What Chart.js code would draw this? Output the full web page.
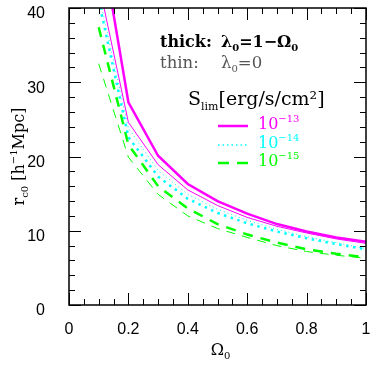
<!DOCTYPE html>
<html>
<head>
<meta charset="utf-8">
<script src="https://cdn.jsdelivr.net/npm/chart.js@4"></script>
<style>
html, body { margin: 0; padding: 0; background: #fff; }
</style>
</head>
<body>
<canvas id="rc0Chart" width="382" height="368"></canvas>
<script>
// Omega_0 grid
const omega0 = [0.1, 0.2, 0.3, 0.4, 0.5, 0.6, 0.7, 0.8, 0.9, 1.0];

// r_c0 [h^-1 Mpc]; thick = lambda0 = 1 - Omega0, thin = lambda0 = 0
const flat13 = [51.0, 27.3, 20.1, 16.3, 14.0, 12.3, 10.9, 9.9, 9.1, 8.5];
const open13 = [43.4, 24.6, 18.9, 15.5, 13.4, 11.8, 10.6, 9.7, 8.9, 8.3];
const flat14 = [41.0, 22.6, 17.3, 14.3, 12.4, 11.0, 9.9, 9.0, 8.2, 7.5];
const open14 = [42.0, 23.8, 18.1, 14.9, 12.9, 11.4, 10.2, 9.2, 8.4, 7.6];
const flat15 = [37.4, 21.6, 16.0, 13.0, 10.9, 9.5, 8.4, 7.5, 6.9, 6.4];
const open15 = [32.5, 19.9, 14.9, 12.0, 10.3, 9.1, 8.0, 7.2, 6.7, 6.3];

const xTickLabels = ['0', '0.2', '0.4', '0.6', '0.8', '1'];
const yTickLabels = ['0', '10', '20', '30', '40'];
const fluxLabels = ['−13', '−14', '−15'];

const MAGENTA = '#ff00ff';
const CYAN = '#00ffff';
const GREEN = '#00ff00';

function pts(arr) {
    return omega0.map((x, i) => ({ x: x, y: arr[i] }));
}

function line(arr, color, width, dash) {
    return {
        data: pts(arr),
        borderColor: color,
        borderWidth: width,
        borderDash: dash,
        pointRadius: 0,
        tension: 0,
        fill: false
    };
}

// draws a run of text pieces (font, vertical shift) one after another
function richText(ctx, x, y, parts, color) {
    ctx.fillStyle = color;
    ctx.textBaseline = 'alphabetic';
    ctx.textAlign = 'left';
    parts.forEach(p => {
        ctx.font = p[1];
        ctx.fillText(p[0], x, y + (p[2] || 0));
        x += ctx.measureText(p[0]).width;
    });
}

function richWidth(ctx, parts) {
    let w = 0;
    parts.forEach(p => { ctx.font = p[1]; w += ctx.measureText(p[0]).width; });
    return w;
}

const SERIF = '"DejaVu Serif", "Liberation Serif", serif';

const decorations = {
    id: 'decorations',
    afterDatasetsDraw(chart) {
        const { ctx, chartArea: a, scales: { x, y } } = chart;
        ctx.save();

        // frame and inward ticks
        ctx.strokeStyle = '#000';
        ctx.lineWidth = 1;
        ctx.beginPath();
        for (let i = 0; i <= 20; i++) {
            const px = Math.round(x.getPixelForValue(i * 0.05)) + 0.5;
            const len = i % 4 === 0 ? 12 : 6;
            ctx.moveTo(px, a.bottom); ctx.lineTo(px, a.bottom - len);
            ctx.moveTo(px, a.top); ctx.lineTo(px, a.top + len);
        }
        for (let i = 0; i <= 20; i++) {
            const py = Math.round(y.getPixelForValue(i * 2)) + 0.5;
            const len = i % 5 === 0 ? 12 : 6;
            ctx.moveTo(a.left, py); ctx.lineTo(a.left + len, py);
            ctx.moveTo(a.right, py); ctx.lineTo(a.right - len, py);
        }
        ctx.stroke();
        ctx.lineWidth = 1.5;
        ctx.strokeRect(a.left, a.top, a.right - a.left, a.bottom - a.top);

        // annotation
        richText(ctx, 160, 47, [['thick:', 'bold 16px ' + SERIF]], '#000');
        richText(ctx, 221, 47, [
            ['λ', 'bold 16px ' + SERIF], ['0', 'bold 10px ' + SERIF, 4],
            ['=1−Ω', 'bold 16px ' + SERIF], ['0', 'bold 10px ' + SERIF, 4]
        ], '#000');
        richText(ctx, 160, 68, [['thin:', '16.5px ' + SERIF]], '#555');
        richText(ctx, 221, 68, [
            ['λ', '16.5px ' + SERIF], ['0', '10px ' + SERIF, 4], ['=0', '16.5px ' + SERIF]
        ], '#555');
        richText(ctx, 188, 105, [
            ['S', '19px ' + SERIF], ['lim', '11px ' + SERIF, 5], ['[erg/s/cm²]', '19px ' + SERIF]
        ], '#000');

        // legend
        const rows = [
            { color: MAGENTA, width: 2.5, dash: [], base: 129 },
            { color: CYAN, width: 1.5, dash: [1.5, 3], base: 148 },
            { color: GREEN, width: 2.5, dash: [11, 8], base: 166 }
        ];
        rows.forEach((r, i) => {
            ctx.strokeStyle = r.color;
            ctx.lineWidth = r.width;
            ctx.setLineDash(r.dash);
            ctx.beginPath();
            ctx.moveTo(218, r.base - 3);
            ctx.lineTo(248, r.base - 3);
            ctx.stroke();
            ctx.setLineDash([]);
            richText(ctx, 258, r.base, [
                ['10', '16px ' + SERIF], [fluxLabels[i], '10px ' + SERIF, -7]
            ], r.color);
        });

        // axis titles
        const yTitle = [
            ['r', '16px ' + SERIF], ['c0', '10px ' + SERIF, 4], [' [h', '16px ' + SERIF],
            ['−1', '10px ' + SERIF, -7], ['Mpc]', '16px ' + SERIF]
        ];
        ctx.save();
        ctx.translate(24, (a.top + a.bottom) / 2);
        ctx.rotate(-Math.PI / 2);
        richText(ctx, -richWidth(ctx, yTitle) / 2, 0, yTitle, '#000');
        ctx.restore();

        const xTitle = [['Ω', '16px ' + SERIF], ['0', '10px ' + SERIF, 4]];
        richText(ctx, (a.left + a.right) / 2 - richWidth(ctx, xTitle) / 2 + 3, 355, xTitle, '#000');

        ctx.restore();
    }
};

const ctx = document.getElementById('rc0Chart').getContext('2d');
new Chart(ctx, {
    type: 'line',
    data: {
        datasets: [
            line(open13, MAGENTA, 1, []),
            line(open14, CYAN, 1, [1, 3]),
            line(open15, GREEN, 1, [9, 7]),
            line(flat13, MAGENTA, 2.5, []),
            line(flat14, CYAN, 2.5, [2.5, 4.5]),
            line(flat15, GREEN, 2.5, [10, 8])
        ]
    },
    options: {
        responsive: false,
        animation: false,
        layout: { padding: { left: 0, right: 16, top: 8, bottom: 0 } },
        plugins: {
            legend: { display: false },
            tooltip: { enabled: false }
        },
        scales: {
            x: {
                type: 'linear',
                min: 0,
                max: 1,
                grid: { display: false },
                border: { display: false },
                afterFit: s => { s.height = 63; s.paddingLeft = 0; s.paddingRight = 0; },
                ticks: {
                    stepSize: 0.2,
                    padding: 7,
                    color: '#000',
                    font: { family: '"Liberation Sans", Arial, sans-serif', size: 16 },
                    callback: (v, i) => xTickLabels[i]
                }
            },
            y: {
                min: 0,
                max: 40,
                grid: { display: false },
                border: { display: false },
                afterFit: s => { s.width = 69; s.paddingTop = 0; s.paddingBottom = 0; },
                ticks: {
                    stepSize: 10,
                    padding: 16,
                    labelOffset: 6,
                    color: '#000',
                    font: { family: '"Liberation Sans", Arial, sans-serif', size: 16 },
                    callback: (v, i) => yTickLabels[i]
                }
            }
        }
    },
    plugins: [decorations]
});
</script>
</body>
</html>
